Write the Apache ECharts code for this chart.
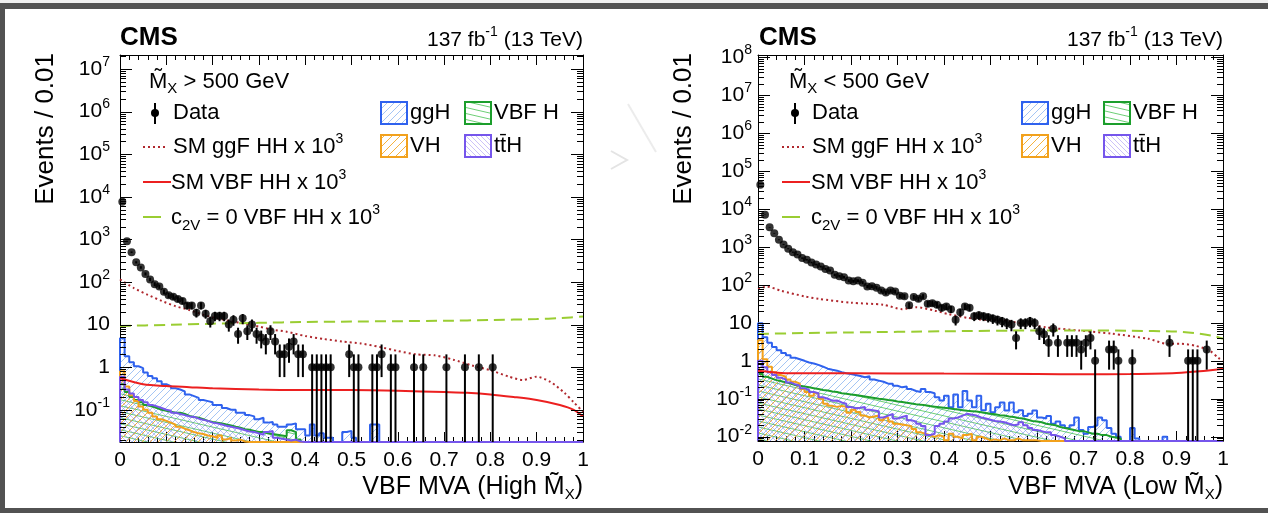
<!DOCTYPE html>
<html><head><meta charset="utf-8">
<script src="https://cdn.jsdelivr.net/npm/echarts@6/dist/echarts.min.js"></script>
<style>html,body{margin:0;padding:0;background:#fff;}#c{width:1268px;height:513px;}</style>
</head><body><div id="c"></div>
<script>
// ================= DATA =================
const BIN_WIDTH = 0.01;
const X_TICK_VALUES = [0, 0.1, 0.2, 0.3, 0.4, 0.5, 0.6, 0.7, 0.8, 0.9, 1];
const X_TICK_LABELS = ['0', '0.1', '0.2', '0.3', '0.4', '0.5', '0.6', '0.7', '0.8', '0.9', '1'];

// ---- Left panel: high M_X ----
const L_YTICK_VALUES = [0.1, 1, 10, 100, 1e3, 1e4, 1e5, 1e6, 1e7];
const L_YTICK_LABELS = ['10{s|-1}', '1', '10', '10{s|2}', '10{s|3}', '10{s|4}', '10{s|5}', '10{s|6}', '10{s|7}'];
const L_DATA = [
 7600, 900, 500, 290, 220, 155, 115, 89, 78, 59,
 49, 45, 40, 36, 28, 28, 19, 28, 18, 12,
 16, 16, 16, 10, 13, 6, 14, 7, 10, 6,
 5, 4, 7, 4, 2, 2, 3, 4, 2, 2,
 0, 1, 1, 1, 1, 1, 0, 0, 0, 2,
 1, 1, 0, 0, 1, 1, 2, 0, 1, 1,
 0, 0, 0, 1, 0, 1, 0, 0, 0, 0,
 1, 0, 0, 0, 1, 0, 0, 1, 0, 0,
 1, 0, 0, 0, 0, 0, 0, 0, 0, 0,
 0, 0, 0, 0, 0, 0, 0, 0, 0, 0];
const L_GGH = [
 4.8, 1.8, 1.3, 1.05, 0.95, 0.75, 0.62, 0.55, 0.47, 0.4,
 0.36, 0.32, 0.3, 0.27, 0.23, 0.21, 0.19, 0.17, 0.16, 0.15,
 0.13, 0.13, 0.11, 0.1, 0.1, 0.085, 0.085, 0.075, 0.07, 0.06,
 0.065, 0.05, 0.052, 0.045, 0.04, 0.04, 0.045, 0.048, 0.035, 0.035,
 0.025, 0.045, 0.025, 0.028, 0.022, 0.022, 0, 0, 0.03, 0.032,
 0.022, 0, 0, 0, 0.045, 0.045, 0, 0, 0, 0,
 0, 0, 0, 0, 0, 0, 0, 0, 0, 0,
 0, 0, 0, 0, 0, 0, 0, 0, 0, 0,
 0, 0, 0, 0, 0, 0, 0, 0, 0, 0,
 0, 0, 0, 0, 0, 0, 0, 0, 0, 0];
const L_VBFH = [
 0.4, 0.26, 0.2, 0.17, 0.15, 0.13, 0.12, 0.11, 0.1, 0.095,
 0.09, 0.085, 0.085, 0.08, 0.072, 0.068, 0.065, 0.06, 0.055, 0.052,
 0.05, 0.048, 0.045, 0.043, 0.04, 0.038, 0.035, 0.034, 0.032, 0.03,
 0.03, 0.028, 0.027, 0.026, 0.025, 0.024, 0.033, 0.03, 0.02, 0,
 0, 0, 0, 0, 0, 0, 0, 0, 0, 0,
 0, 0, 0, 0, 0, 0, 0, 0, 0, 0,
 0, 0, 0, 0, 0, 0, 0, 0, 0, 0,
 0, 0, 0, 0, 0, 0, 0, 0, 0, 0,
 0, 0, 0, 0, 0, 0, 0, 0, 0, 0,
 0, 0, 0, 0, 0, 0, 0, 0, 0, 0];
const L_VH = [
 0.8, 0.35, 0.22, 0.16, 0.12, 0.1, 0.085, 0.07, 0.06, 0.055,
 0.05, 0.045, 0.04, 0.036, 0.033, 0.03, 0.028, 0.027, 0.025, 0.024,
 0.022, 0.025, 0.02, 0.022, 0.019, 0.02, 0.018, 0, 0, 0,
 0, 0, 0, 0, 0, 0, 0, 0, 0, 0,
 0, 0, 0, 0, 0, 0, 0, 0, 0, 0,
 0, 0, 0, 0, 0, 0, 0, 0, 0, 0,
 0, 0, 0, 0, 0, 0, 0, 0, 0, 0,
 0, 0, 0, 0, 0, 0, 0, 0, 0, 0,
 0, 0, 0, 0, 0, 0, 0, 0, 0, 0,
 0, 0, 0, 0, 0, 0, 0, 0, 0, 0];
const L_TTH = [
 0.6, 0.3, 0.24, 0.2, 0.17, 0.15, 0.13, 0.12, 0.11, 0.1,
 0.095, 0.085, 0.08, 0.075, 0.07, 0.068, 0.062, 0.058, 0.055, 0.05,
 0.048, 0.045, 0.042, 0.04, 0.038, 0.036, 0.033, 0.031, 0.03, 0.028,
 0.026, 0.03, 0.032, 0.022, 0.021, 0.02, 0.019, 0.02, 0.018, 0,
 0, 0, 0, 0, 0, 0, 0, 0, 0, 0,
 0, 0, 0, 0, 0, 0, 0, 0, 0, 0,
 0, 0, 0, 0, 0, 0, 0, 0, 0, 0,
 0, 0, 0, 0, 0, 0, 0, 0, 0, 0,
 0, 0, 0, 0, 0, 0, 0, 0, 0, 0,
 0, 0, 0, 0, 0, 0, 0, 0, 0, 0];
const L_GGFHH_X = [0, 0.03, 0.06, 0.09, 0.12, 0.15, 0.18, 0.21, 0.24, 0.27, 0.3, 0.33, 0.36, 0.4, 0.44, 0.48, 0.52, 0.56, 0.6, 0.64, 0.68, 0.72, 0.76, 0.8, 0.84, 0.87, 0.9, 0.93, 0.96, 0.98, 1];
const L_GGFHH_Y = [115, 72, 50, 36, 27, 22, 17, 14, 12, 10.5, 9, 7.6, 6.8, 5.4, 4.6, 4.0, 3.6, 3.0, 2.4, 2.0, 1.9, 1.5, 1.1, 0.85, 0.6, 0.5, 0.6, 0.45, 0.25, 0.15, 0.09];
const L_VBFHH_X = [0, 0.05, 0.1, 0.15, 0.2, 0.3, 0.4, 0.5, 0.6, 0.7, 0.75, 0.8, 0.85, 0.9, 0.95, 0.98, 1];
const L_VBFHH_Y = [0.55, 0.4, 0.36, 0.34, 0.32, 0.3, 0.29, 0.29, 0.28, 0.26, 0.25, 0.23, 0.2, 0.17, 0.13, 0.1, 0.07];
const L_C2V_X = [0, 0.1, 0.2, 0.3, 0.4, 0.5, 0.6, 0.7, 0.8, 0.9, 0.95, 1];
const L_C2V_Y = [9.3, 9.8, 10.5, 11, 11.5, 11.8, 12, 12.3, 12.8, 13.5, 14.2, 15.5];

// ---- Right panel: low M_X ----
const R_YTICK_VALUES = [0.01, 0.1, 1, 10, 100, 1e3, 1e4, 1e5, 1e6, 1e7, 1e8];
const R_YTICK_LABELS = ['10{s|-2}', '10{s|-1}', '1', '10', '10{s|2}', '10{s|3}', '10{s|4}', '10{s|5}', '10{s|6}', '10{s|7}', '10{s|8}'];
const R_DATA = [
 44000, 7100, 3300, 2300, 1550, 1170, 900, 730, 630, 510,
 460, 390, 345, 305, 265, 240, 185, 170, 160, 130,
 125, 130, 115, 91, 93, 84, 71, 63, 71, 67,
 52, 50, 29, 48, 43, 50, 32, 33, 30, 25,
 27, 23, 12, 19, 27, 25, 15, 16, 15, 14,
 13, 12, 11, 10, 9, 4, 10, 10, 11, 10,
 6, 5, 3, 7, 3, 0, 3, 3, 3, 2,
 3, 4, 1, 0, 0, 2, 2, 1, 0, 0,
 1, 0, 0, 0, 0, 0, 0, 0, 3, 0,
 0, 0, 1, 1, 1, 0, 2, 0, 0, 0];
const R_GGH = [
 9.8, 4.2, 3.0, 2.3, 1.9, 1.6, 1.4, 1.2, 1.1, 1.0,
 0.9, 0.85, 0.78, 0.7, 0.62, 0.58, 0.55, 0.5, 0.47, 0.45,
 0.42, 0.4, 0.37, 0.39, 0.32, 0.3, 0.28, 0.25, 0.25, 0.22,
 0.2, 0.21, 0.18, 0.16, 0.15, 0.18, 0.15, 0.14, 0.11, 0.09,
 0.12, 0.06, 0.13, 0.06, 0.16, 0.09, 0.06, 0.12, 0.05, 0.074,
 0.044, 0.06, 0.08, 0.049, 0.08, 0.044, 0.05, 0.035, 0.04, 0.049,
 0.032, 0.03, 0.035, 0.022, 0.025, 0.02, 0.017, 0.02, 0.032, 0.015,
 0.012, 0.018, 0.02, 0.032, 0.027, 0.017, 0.012, 0.01, 0, 0,
 0.017, 0.009, 0, 0, 0, 0, 0, 0.0099, 0, 0,
 0, 0, 0, 0, 0, 0, 0, 0, 0, 0];
const R_VBFH = [
 0.45, 0.38, 0.34, 0.31, 0.29, 0.27, 0.25, 0.23, 0.22, 0.21,
 0.2, 0.19, 0.18, 0.17, 0.165, 0.155, 0.15, 0.14, 0.135, 0.13,
 0.125, 0.12, 0.115, 0.11, 0.105, 0.1, 0.097, 0.093, 0.09, 0.085,
 0.082, 0.078, 0.075, 0.072, 0.07, 0.067, 0.064, 0.062, 0.06, 0.058,
 0.056, 0.054, 0.052, 0.05, 0.048, 0.047, 0.046, 0.044, 0.042, 0.04,
 0.039, 0.037, 0.036, 0.034, 0.033, 0.031, 0.03, 0.028, 0.026, 0.025,
 0.024, 0.022, 0.021, 0.02, 0.018, 0.017, 0.016, 0.015, 0.014, 0.014,
 0.013, 0.012, 0.012, 0.011, 0.011, 0.01, 0.0095, 0.009, 0, 0,
 0, 0, 0, 0, 0, 0, 0, 0, 0, 0,
 0, 0, 0, 0, 0, 0, 0, 0, 0, 0];
const R_VH = [
 3.5, 1.1, 0.7, 0.5, 0.42, 0.38, 0.32, 0.28, 0.25, 0.18,
 0.15, 0.12, 0.14, 0.1, 0.074, 0.065, 0.061, 0.065, 0.061, 0.043,
 0.051, 0.045, 0.036, 0.032, 0.034, 0.036, 0.027, 0.032, 0.025, 0.022,
 0.021, 0.02, 0.019, 0.016, 0.013, 0.012, 0.011, 0.0099, 0.011, 0.01,
 0.008, 0.012, 0.01, 0.009, 0.011, 0.012, 0.008, 0.01, 0.009, 0.008,
 0.0085, 0.008, 0.009, 0.008, 0.008, 0.009, 0.008, 0.008, 0.008, 0.008,
 0, 0, 0, 0, 0, 0, 0, 0, 0, 0,
 0, 0, 0, 0, 0, 0, 0, 0, 0, 0,
 0, 0, 0, 0, 0, 0, 0, 0, 0, 0,
 0, 0, 0, 0, 0, 0, 0, 0, 0, 0];
const R_TTH = [
 1.0, 0.68, 0.5, 0.42, 0.36, 0.32, 0.27, 0.24, 0.22, 0.19,
 0.17, 0.15, 0.14, 0.11, 0.1, 0.089, 0.09, 0.08, 0.074, 0.061,
 0.056, 0.058, 0.061, 0.051, 0.049, 0.047, 0.032, 0.036, 0.04, 0.03,
 0.033, 0.036, 0.027, 0.025, 0.022, 0.019, 0.011, 0.012, 0.019, 0.022,
 0.025, 0.03, 0.032, 0.036, 0.04, 0.038, 0.036, 0.032, 0.03, 0.028,
 0.026, 0.025, 0.024, 0.022, 0.02, 0.021, 0.024, 0.02, 0.017, 0.015,
 0.014, 0.013, 0.013, 0.011, 0.01, 0.009, 0, 0, 0, 0,
 0, 0, 0, 0, 0, 0, 0, 0, 0, 0,
 0, 0, 0, 0, 0, 0, 0, 0, 0, 0,
 0, 0, 0, 0, 0, 0, 0, 0, 0, 0];
const R_GGFHH_X = [0, 0.02, 0.05, 0.1, 0.13, 0.2, 0.27, 0.31, 0.34, 0.38, 0.41, 0.45, 0.49, 0.52, 0.55, 0.62, 0.69, 0.76, 0.84, 0.88, 0.91, 0.94, 0.97, 0.99, 1];
const R_GGFHH_Y = [80, 90, 70, 50, 43, 34, 30, 23, 26, 21, 17, 13.6, 12, 12, 10.5, 7.6, 6.3, 5.2, 3.8, 2.8, 2.8, 2.5, 1.9, 1.2, 1.0];
const R_VBFHH_X = [0, 0.05, 0.1, 0.2, 0.4, 0.6, 0.7, 0.8, 0.9, 0.95, 1];
const R_VBFHH_Y = [0.55, 0.48, 0.47, 0.47, 0.46, 0.45, 0.44, 0.45, 0.48, 0.53, 0.62];
const R_C2V_X = [0, 0.1, 0.2, 0.4, 0.6, 0.7, 0.8, 0.9, 0.95, 0.98, 1];
const R_C2V_Y = [5.1, 5.4, 5.6, 6.0, 6.3, 6.3, 6.2, 5.9, 5.2, 4.5, 3.8];

// legend / annotation texts
const TXT_CMS = 'CMS';
const TXT_LUMI = '137 fb{s|-1} (13 TeV)';
const TXT_YTITLE = 'Events / 0.01';
const L_TXT_SEL = 'M\u0303{b|X} > 500 GeV';
const R_TXT_SEL = 'M\u0303{b|X} < 500 GeV';
const L_TXT_XTITLE = 'VBF MVA (High M\u0303{b|X})';
const R_TXT_XTITLE = 'VBF MVA (Low M\u0303{b|X})';
const LEG_DATA = 'Data';
const LEG_GGFHH = 'SM ggF HH x 10{s|3}';
const LEG_VBFHH = 'SM VBF HH x 10{s|3}';
const LEG_C2V = 'c{b|2V} = 0 VBF HH x 10{s|3}';
const LEG_GGH = 'ggH', LEG_VBFH = 'VBF H', LEG_VH = 'VH', LEG_TTH = 't' + 't\u0304' + 'H';

// ================= STYLE =================
const FONT = 'Liberation Sans';
const C_GGH = '#2f62ee', C_VBFH = '#1c9e2c', C_VH = '#f2a11c', C_TTH = '#7656ec';
const C_GGF = '#b0282e', C_VBFHH = '#ec2020', C_C2V = '#9acd32';
const L_YMIN = 0.01754, L_YMAX = 2.13e7;
const R_YMIN = 0.0077, R_YMAX = 1.15e8;

function pattern(w, h, color, lw, dir) {
  const c = document.createElement('canvas');
  c.width = w; c.height = h;
  const g = c.getContext('2d');
  g.strokeStyle = color; g.lineWidth = lw;
  g.beginPath();
  for (const dx of [-w, 0, w]) for (const dy of [-h, 0, h]) {
    if (dir === 'up') { g.moveTo(dx, dy + h); g.lineTo(dx + w, dy); }
    else { g.moveTo(dx, dy); g.lineTo(dx + w, dy + h); }
  }
  g.stroke();
  return { image: c, repeat: 'repeat' };
}
const PAT_GGH = pattern(7, 7, 'rgba(90,150,235,0.55)', 1, 'up');
const PAT_VBFH = pattern(26, 6, 'rgba(60,190,70,0.75)', 1, 'down');
const PAT_VH = pattern(8, 8, 'rgba(245,170,40,0.9)', 1, 'up');
const PAT_TTH = pattern(5, 5, 'rgba(140,120,240,0.45)', 1, 'down');

const RICH = {
  s: { fontSize: 14, lineHeight: 14, verticalAlign: 'top', fontFamily: FONT, fill: '#000' },
  b: { fontSize: 15, lineHeight: 15, verticalAlign: 'bottom', fontFamily: FONT, fill: '#000' }
};

// ================= BUILDERS =================
function histPoints(vals, ymin) {
  const pts = [[0, ymin]];
  vals.forEach((v, i) => pts.push([+(i * BIN_WIDTH).toFixed(2), Math.max(v, ymin)]));
  pts.push([1, Math.max(vals[vals.length - 1], ymin)]);
  pts.push([1, ymin]);
  return pts;
}
function histSeries(vals, ymin, color, pat, xi, yi) {
  return { type: 'line', xAxisIndex: xi, yAxisIndex: yi, step: 'end', symbol: 'none', silent: true,
    data: histPoints(vals, ymin), lineStyle: { color: color, width: 2 },
    areaStyle: { color: pat, origin: 'start', opacity: 1 }, z: 2 };
}
function curveSeries(xs, ys, color, type, xi, yi) {
  return { type: 'line', xAxisIndex: xi, yAxisIndex: yi, smooth: 0.25, symbol: 'none', silent: true,
    data: xs.map((x, i) => [x, ys[i]]), lineStyle: { color: color, width: 2, type: type }, z: 3 };
}
function dataSeries(vals) {
  const pts = [];
  vals.forEach((n, i) => { if (n > 0) pts.push([+(i * BIN_WIDTH + BIN_WIDTH / 2).toFixed(3), n]); });
  return pts;
}
function errSeries(vals, ymin, xi, yi) {
  return { type: 'custom', xAxisIndex: xi, yAxisIndex: yi, silent: true, z: 5,
    data: dataSeries(vals),
    renderItem: function (params, api) {
      const x = api.value(0), n = api.value(1), e = Math.sqrt(n);
      const p1 = api.coord([x, Math.max(n - e, ymin)]), p2 = api.coord([x, n + e]);
      return { type: 'line', shape: { x1: p1[0], y1: p1[1], x2: p2[0], y2: p2[1] }, style: { stroke: '#000', lineWidth: 2 } };
    } };
}
function scatterSeries(vals, xi, yi) {
  return { type: 'scatter', xAxisIndex: xi, yAxisIndex: yi, silent: true, symbol: 'circle', symbolSize: 8,
    itemStyle: { color: '#000' }, data: dataSeries(vals), z: 6 };
}
function yTickSeries(xi, yi, ymin, ymax, majors, labels, gap) {
  const ticks = [];
  majors.forEach((v, i) => ticks.push({ v: v, major: true, label: labels[i] }));
  for (let k = -3; k <= 8; k++) for (let m = 2; m <= 9; m++) {
    const v = m * Math.pow(10, k);
    if (v > ymin && v < ymax) ticks.push({ v: v, major: false, label: '' });
  }
  return { type: 'custom', xAxisIndex: xi, yAxisIndex: yi, silent: true, clip: false, z: 7,
    data: ticks.map(t => [0, t.v]),
    renderItem: function (params, api) {
      const t = ticks[params.dataIndex];
      const pL = api.coord([0, t.v]), pR = api.coord([1, t.v]);
      const len = t.major ? 12 : 6;
      const y = Math.round(pL[1]) + 0.5;
      const ch = [
        { type: 'line', shape: { x1: pL[0], y1: y, x2: pL[0] + len, y2: y }, style: { stroke: '#000', lineWidth: 1 } },
        { type: 'line', shape: { x1: pR[0], y1: y, x2: pR[0] - len, y2: y }, style: { stroke: '#000', lineWidth: 1 } }
      ];
      if (t.major) ch.push({ type: 'text', x: pL[0] - gap, y: pL[1],
        style: { text: t.label, fontSize: 21, fontFamily: FONT, lineHeight: 28, fill: '#000', align: 'right', verticalAlign: 'middle', rich: RICH } });
      return { type: 'group', children: ch };
    } };
}
function xAx(gi, pos, lab) {
  return { type: 'value', gridIndex: gi, position: pos, min: 0, max: 1, interval: 0.1,
    axisLine: { show: true, onZero: false, lineStyle: { color: '#000', width: 1 } },
    axisTick: { show: true, inside: true, length: 10, lineStyle: { color: '#000', width: 1 } },
    minorTick: { show: true, splitNumber: 5, length: 5, lineStyle: { color: '#000', width: 1 } },
    axisLabel: { show: lab, color: '#000', fontSize: 21, fontFamily: FONT, margin: 8, showMinLabel: true, showMaxLabel: true,
      formatter: v => { const i = X_TICK_VALUES.findIndex(t => Math.abs(t - v) < 1e-6); return i >= 0 ? X_TICK_LABELS[i] : ''; } },
    splitLine: { show: false }, minorSplitLine: { show: false } };
}
function yLog(gi, mn, mx) {
  return { type: 'log', gridIndex: gi, position: 'left', min: mn, max: mx, logBase: 10,
    axisLine: { show: true, onZero: false, lineStyle: { color: '#000', width: 1 } },
    axisTick: { show: false }, axisLabel: { show: false }, splitLine: { show: false }, minorTick: { show: false } };
}
function yRight(gi) {
  return { type: 'value', gridIndex: gi, position: 'right', min: 0, max: 1,
    axisLine: { show: true, onZero: false, lineStyle: { color: '#000', width: 1 } },
    axisTick: { show: false }, axisLabel: { show: false }, splitLine: { show: false } };
}
function panelSeries(xi, yi, ymin, ymax, d, ggh, vbfh, vh, tth, ggfx, ggfy, vbfx, vbfy, c2x, c2y, majors, labels, gap) {
  return [
    histSeries(ggh, ymin, C_GGH, PAT_GGH, xi, yi),
    histSeries(vbfh, ymin, C_VBFH, PAT_VBFH, xi, yi),
    histSeries(vh, ymin, C_VH, PAT_VH, xi, yi),
    histSeries(tth, ymin, C_TTH, PAT_TTH, xi, yi),
    curveSeries(ggfx, ggfy, C_GGF, [2, 3], xi, yi),
    curveSeries(vbfx, vbfy, C_VBFHH, 'solid', xi, yi),
    curveSeries(c2x, c2y, C_C2V, [11, 6], xi, yi),
    errSeries(d, ymin, xi, yi),
    scatterSeries(d, xi, yi),
    yTickSeries(xi, yi, ymin, ymax, majors, labels, gap)
  ];
}

// ---- text / legend graphics ----
function txt(x, y, text, size, align, extra) {
  return Object.assign({ type: 'text', x: x, y: y, z: 50, silent: true,
    style: { text: text, fontSize: size, fontFamily: FONT, fill: '#000', lineHeight: 30,
      align: align, verticalAlign: 'middle', rich: RICH } }, extra || {});
}
function panelGraphics(P) {
  const g = [];
  g.push(txt(P.cmsX, 37.5, TXT_CMS, 26, 'left', {}));
  g[g.length - 1].style.fontWeight = 'bold';
  g.push(txt(P.lumiX, 40, TXT_LUMI, 21, 'right'));
  g.push(txt(P.selX, 81.5, P.sel, 22, 'left'));
  // Data marker
  g.push({ type: 'line', z: 50, shape: { x1: P.dataMX, y1: 103, x2: P.dataMX, y2: 124 }, style: { stroke: '#000', lineWidth: 2 } });
  g.push({ type: 'circle', z: 50, shape: { cx: P.dataMX, cy: 113, r: 4 }, style: { fill: '#000' } });
  g.push(txt(P.lblX, 113, LEG_DATA, 22, 'left'));
  g.push({ type: 'line', z: 50, shape: { x1: P.lineX1, y1: 147, x2: P.ggfX2, y2: 147 }, style: { stroke: C_GGF, lineWidth: 2, lineDash: [2, 3] } });
  g.push(txt(P.lblX, 147, LEG_GGFHH, 22, 'left'));
  g.push({ type: 'line', z: 50, shape: { x1: P.lineX1, y1: 182, x2: P.vbfX2, y2: 182 }, style: { stroke: C_VBFHH, lineWidth: 2 } });
  g.push(txt(P.lblX2, 183, LEG_VBFHH, 22, 'left'));
  g.push({ type: 'line', z: 50, shape: { x1: P.lineX1, y1: 217, x2: P.c2vX2, y2: 217 }, style: { stroke: C_C2V, lineWidth: 2 } });
  g.push(txt(P.lblX2, 218, LEG_C2V, 22, 'left'));
  const box = (x, y, col, pat) => ({ type: 'rect', z: 50, shape: { x: x, y: y, width: 26, height: 22 }, style: { fill: pat, stroke: col, lineWidth: 2 } });
  g.push(box(P.box1X, 102, C_GGH, PAT_GGH));
  g.push(txt(P.box1X + 29, 113, LEG_GGH, 22, 'left'));
  g.push(box(P.box2X, 102, C_VBFH, PAT_VBFH));
  g.push(txt(P.box2X + 29, 113, LEG_VBFH, 22, 'left'));
  g.push(box(P.box1X, 135, C_VH, PAT_VH));
  g.push(txt(P.box1X + 29, 146, LEG_VH, 22, 'left'));
  g.push(box(P.box2X, 135, C_TTH, PAT_TTH));
  g.push(txt(P.box2X + 29, 146, LEG_TTH, 22, 'left'));
  g.push(txt(P.ytitleX, 53, TXT_YTITLE, 26, 'right', { rotation: Math.PI / 2 }));
  g.push(txt(P.xtitleX, 487, P.xtitle, 25, 'right'));
  return g;
}
const LEFT_P = { cmsX: 120, lumiX: 583, selX: 149, sel: L_TXT_SEL, dataMX: 155, lblX: 173, lineX1: 143, ggfX2: 165, vbfX2: 171, lblX2: 171, c2vX2: 161,
  box1X: 381, box2X: 465, ytitleX: 46, xtitleX: 583, xtitle: L_TXT_XTITLE };
const RIGHT_P = { cmsX: 759, lumiX: 1223, selX: 789, sel: R_TXT_SEL, dataMX: 795, lblX: 812, lineX1: 782, ggfX2: 805, vbfX2: 810, lblX2: 811, c2vX2: 800,
  box1X: 1022, box2X: 1104, ytitleX: 684, xtitleX: 1223, xtitle: R_TXT_XTITLE };

const frame = [
  { type: 'rect', z: 0, silent: true, shape: { x: 0, y: 0, width: 1268, height: 3 }, style: { fill: '#efefef' } },
  { type: 'rect', z: 60, silent: true, shape: { x: 0, y: 3, width: 1268, height: 6 }, style: { fill: '#525252' } },
  { type: 'rect', z: 60, silent: true, shape: { x: 0, y: 3, width: 5, height: 510 }, style: { fill: '#525252' } },
  { type: 'rect', z: 60, silent: true, shape: { x: 0, y: 508, width: 1268, height: 5 }, style: { fill: '#525252' } },
  { type: 'polyline', z: 0, silent: true, shape: { points: [[611, 151], [627, 160], [611, 169]] }, style: { stroke: '#e4e4e4', lineWidth: 2, fill: null } },
  { type: 'line', z: 0, silent: true, shape: { x1: 628, y1: 104, x2: 656, y2: 152 }, style: { stroke: '#ececec', lineWidth: 2 } }
];

const chart = echarts.init(document.getElementById('c'), null, { renderer: 'canvas', width: 1268, height: 513 });
chart.setOption({
  animation: false,
  backgroundColor: '#ffffff',
  grid: [{ left: 120, top: 55, width: 463, height: 387 }, { left: 758, top: 55, width: 465, height: 386 }],
  xAxis: [xAx(0, 'bottom', true), xAx(0, 'top', false), xAx(1, 'bottom', true), xAx(1, 'top', false)],
  yAxis: [yLog(0, L_YMIN, L_YMAX), yRight(0), yLog(1, R_YMIN, R_YMAX), yRight(1)],
  series: [].concat(
    panelSeries(0, 0, L_YMIN, L_YMAX, L_DATA, L_GGH, L_VBFH, L_VH, L_TTH, L_GGFHH_X, L_GGFHH_Y, L_VBFHH_X, L_VBFHH_Y, L_C2V_X, L_C2V_Y, L_YTICK_VALUES, L_YTICK_LABELS, 10),
    panelSeries(2, 2, R_YMIN, R_YMAX, R_DATA, R_GGH, R_VBFH, R_VH, R_TTH, R_GGFHH_X, R_GGFHH_Y, R_VBFHH_X, R_VBFHH_Y, R_C2V_X, R_C2V_Y, R_YTICK_VALUES, R_YTICK_LABELS, 6)
  ),
  graphic: { elements: frame.concat(panelGraphics(LEFT_P), panelGraphics(RIGHT_P)) }
});
</script></body></html>
